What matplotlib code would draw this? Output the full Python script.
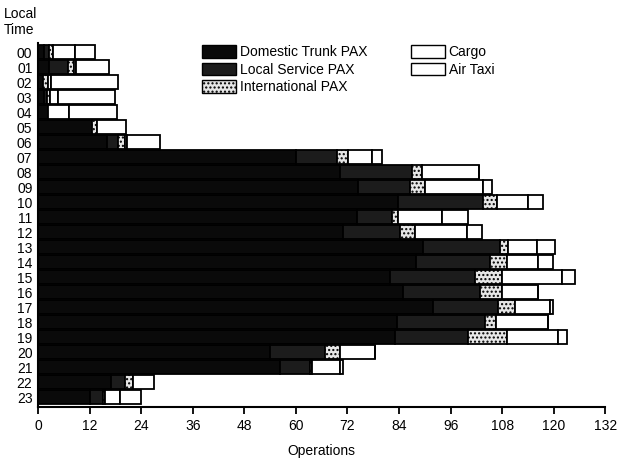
import matplotlib
matplotlib.use("Agg")
import matplotlib.pyplot as plt
import numpy as np
from matplotlib.patches import Patch

plt.rcParams['font.family'] = ['Liberation Sans', 'DejaVu Sans']

# hour labels, top to bottom
hours = ['00', '01', '02', '03', '04', '05', '06', '07', '08', '09', '10', '11',
         '12', '13', '14', '15', '16', '17', '18', '19', '20', '21', '22', '23']

# operations per hour (approximate)
domestic = [1.5, 2.5, 1.2, 1.5, 2.3, 12.5, 16.0, 60.0, 70.3, 74.5, 83.8, 74.3,
            71.0, 89.6, 88.0, 82.0, 85.0, 92.0, 83.6, 83.1, 54.0, 56.3, 17.0, 12.1]
local_svc = [1.0, 4.5, 0.0, 0.5, 0.0, 0.1, 2.6, 9.6, 16.8, 12.1, 19.8, 8.1,
             13.3, 18.0, 17.2, 19.7, 17.9, 15.1, 20.5, 17.0, 12.8, 7.0, 3.3, 3.0]
international = [1.0, 1.3, 1.2, 0.8, 0.0, 1.1, 1.6, 2.6, 2.3, 3.5, 3.3, 1.4,
                 3.5, 1.8, 4.0, 6.3, 5.1, 4.0, 2.5, 9.1, 3.5, 0.5, 1.8, 0.5]
cargo = [5.0, 0.5, 0.7, 1.8, 4.8, 0.0, 0.5, 5.6, 13.3, 13.5, 7.0, 10.3,
         12.1, 6.8, 7.2, 14.0, 8.4, 8.1, 12.1, 11.9, 8.2, 6.5, 0.0, 3.5]
air_taxi = [4.7, 7.7, 15.5, 13.3, 11.3, 6.8, 7.7, 2.3, 0.0, 2.1, 3.7, 6.0,
            3.5, 4.2, 3.5, 3.0, 0.0, 0.7, 0.0, 2.1, 0.0, 0.7, 4.9, 4.9]

series = [
    ('Domestic Trunk PAX', domestic, '#0a0a0a', None),
    ('Local Service PAX', local_svc, '#1c1c1c', None),
    ('International PAX', international, '#e6e6e6', '....'),
    ('Cargo', cargo, 'white', None),
    ('Air Taxi', air_taxi, 'white', None),
]

fig = plt.figure(figsize=(6.2, 4.63), dpi=100)
ax = fig.add_axes([0.0613, 0.121, 0.915, 0.786])

y = np.arange(len(hours))
left = np.zeros(len(hours))
for name, vals, color, hatch in series:
    vals = np.array(vals)
    ax.barh(y, vals, left=left, height=0.88, color=color, edgecolor='black',
            linewidth=1.3, hatch=hatch)
    left += vals

ax.set_ylim(23.66, -0.6)
ax.set_xlim(0, 132)
ax.set_xticks(np.arange(0, 133, 12))
ax.set_yticks(y)
ax.set_yticklabels(hours)
ax.tick_params(axis='y', length=0, pad=4, labelsize=10)
ax.tick_params(axis='x', direction='out', length=5, width=1.3, labelsize=10)
for s in ['top', 'right']:
    ax.spines[s].set_visible(False)
for s in ['left', 'bottom']:
    ax.spines[s].set_linewidth(1.5)

ax.set_xlabel('Operations', fontsize=10, labelpad=8)
fig.text(0.006, 0.97, 'Local', fontsize=10, va='center', ha='left')
fig.text(0.006, 0.935, 'Time', fontsize=10, va='center', ha='left')

handles = [Patch(facecolor=c, edgecolor='black', hatch=h, label=n)
           for n, v, c, h in series]
# two-column legend: first three in column one, last two in column two
leg_kw = dict(frameon=False, fontsize=10, handlelength=2.4, handleheight=1.0,
              labelspacing=0.25, handletextpad=0.3, borderpad=0)
fig.legend(handles=handles[:3], loc='upper left',
           bbox_to_anchor=(0.315, 0.9175), **leg_kw)
fig.legend(handles=handles[3:], loc='upper left',
           bbox_to_anchor=(0.652, 0.9175), **leg_kw)

fig.savefig('out.png', dpi=100)
